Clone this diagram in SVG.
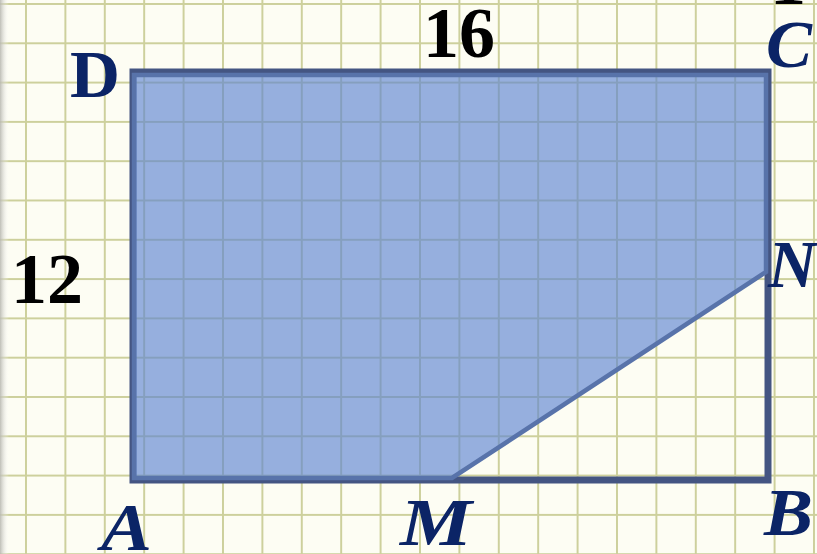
<svg xmlns="http://www.w3.org/2000/svg" width="817" height="554" viewBox="0 0 817 554">
  <style>
    .lbl { font-family: "Liberation Serif", "Times New Roman", serif; font-weight: bold; fill: #0b2466; font-size: 67px; }
    .it { font-style: italic; }
    .num { font-family: "Liberation Serif", "Times New Roman", serif; font-weight: bold; fill: #000; font-size: 72px; }
  </style>
  <defs>
    <pattern id="grid" patternUnits="userSpaceOnUse" x="25" y="3" width="39.4" height="39.3">
      <rect x="0" y="0" width="39.4" height="39.3" fill="#fdfdf3"/>
      <line x1="1" y1="0" x2="1" y2="39.3" stroke="#cdd09c" stroke-width="2"/>
      <line x1="0" y1="1" x2="39.4" y2="1" stroke="#cdd09c" stroke-width="2"/>
    </pattern>
    <linearGradient id="shade" x1="0" y1="0" x2="1" y2="0">
      <stop offset="0" stop-color="#b8b8b0" stop-opacity="0.9"/>
      <stop offset="1" stop-color="#ffffff" stop-opacity="0"/>
    </linearGradient>
  </defs>

  <g id="background">
    <rect x="0" y="0" width="817" height="554" fill="url(#grid)"/>
    <rect x="0" y="0" width="9" height="554" fill="url(#shade)"/>
  </g>

  <g id="rectangle-ABCD">
    <rect x="133" y="72" width="635" height="408" fill="none" stroke="#445582" stroke-width="7"/>
  </g>

  <g id="shaded-DCNMA">
    <polygon points="134,75 766,75 766,272 452,478 134,478" fill="#5c84d2" fill-opacity="0.64" stroke="#5873aa" stroke-width="4.5" stroke-linejoin="miter"/>
  </g>

  <g id="labels">
    <text class="lbl" x="70" y="97" textLength="50" lengthAdjust="spacingAndGlyphs">D</text>
    <text class="lbl it" x="766" y="67" textLength="46" lengthAdjust="spacingAndGlyphs">C</text>
    <text class="lbl it" x="768" y="287">N</text>
    <text class="lbl it" x="101" y="550" textLength="51" lengthAdjust="spacingAndGlyphs">A</text>
    <text class="lbl it" x="400" y="545" textLength="72" lengthAdjust="spacingAndGlyphs">M</text>
    <text class="lbl it" x="764" y="535" textLength="49" lengthAdjust="spacingAndGlyphs">B</text>
    <text class="num" x="423" y="57">16</text>
    <text class="num" x="11" y="303">12</text>
    <text class="num" x="770" y="4">1</text>
  </g>
</svg>
